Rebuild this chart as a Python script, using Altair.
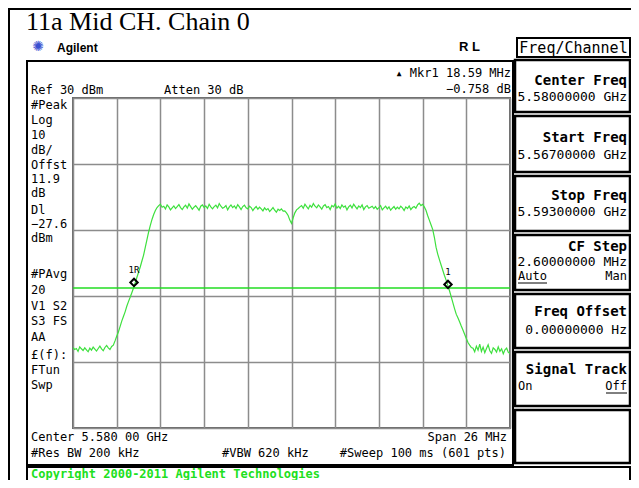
import altair as alt
import pandas as pd

# ---------------- data ----------------
TITLE = "11a Mid CH. Chain 0"
START_MHZ = -13.0          # offset from centre 5.580 GHz
STEP_MHZ = 0.1
TRACE_DBM = [
    # floor left (-13.0 .. -10.6)
    -45.6, -46.2, -45.9, -46.8, -45.4, -46.0, -46.5, -45.7, -46.3, -46.9, -45.8, -46.4, -45.5,
    -46.1, -46.7, -45.9, -45.2, -46.0, -46.6, -45.6, -45.0, -45.7, -46.2, -45.3, -44.9,
    # rising edge (-10.5 .. -8.0)
    -43.6, -42.2, -40.9, -39.3, -37.6, -36.2, -34.8, -33.1, -31.7, -30.4, -29.0, -27.6, -26.0,
    -24.4, -22.8, -21.2, -19.4, -17.6, -15.3, -12.9, -10.6, -8.6, -6.8, -5.3, -4.1, -3.2,
    # left plateau (-7.9 .. -0.5)
    -2.6, -2.2, -3.1, -2.8, -3.6, -2.4, -3.0, -3.9, -3.3, -2.7, -3.5, -2.9, -2.3, -3.2, -3.8,
    -3.0, -2.5, -3.4, -2.1, -2.9, -3.7, -3.1, -2.6, -3.3, -4.0, -2.8, -2.4, -3.2, -2.7, -3.5,
    -2.2, -3.0, -3.6, -2.9, -2.5, -3.3, -2.0, -2.8, -3.4, -3.1, -2.6, -3.9, -3.0, -2.4, -3.2,
    -2.7, -3.5, -2.3, -3.0, -3.8, -2.9, -2.5, -3.3, -3.6, -2.8, -3.2, -4.1, -3.4, -2.9, -3.7,
    -3.1, -3.6, -4.2, -3.3, -3.9, -3.5, -4.4, -3.8, -3.2, -4.0, -4.6, -3.7, -4.1, -3.6, -4.3,
    # centre dip (-0.4 .. 0.3)
    -4.2, -4.8, -5.6, -7.0, -8.0, -6.3, -4.8, -3.9,
    # right plateau (0.4 .. 7.9)
    -3.5, -3.0, -2.6, -3.4, -2.2, -2.9, -3.6, -2.5, -3.1, -2.0, -2.8, -3.3, -2.4, -3.0, -3.7,
    -2.7, -2.3, -3.2, -2.9, -3.8, -2.6, -3.0, -2.1, -3.4, -2.8, -3.5, -2.4, -3.1, -2.7, -3.9,
    -3.0, -2.5, -3.3, -2.2, -2.9, -3.6, -2.7, -3.2, -2.4, -3.8, -3.0, -2.6, -3.4, -3.1, -2.8,
    -3.5, -2.9, -3.7, -3.2, -2.6, -3.9, -3.3, -2.8, -3.6, -3.0, -4.0, -3.4, -2.9, -3.7, -3.1,
    -3.6, -2.8, -3.3, -4.1, -3.0, -3.5, -2.7, -3.8, -3.2, -2.9, -3.4, -2.4, -1.9, -2.6, -2.2, -3.0,
    # falling edge (8.0 .. 10.7)
    -4.0, -5.6, -7.0, -8.4, -9.8, -12.2, -15.2, -17.3, -19.0, -20.6, -22.2, -23.8, -25.2, -26.8,
    -28.4, -30.2, -32.0, -33.8, -35.5, -36.6, -37.8, -39.1, -40.3, -41.6, -42.9, -44.1, -44.9, -45.6,
    # floor right (10.8 .. 13.0)
    -45.8, -46.9, -45.2, -46.4, -44.6, -46.8, -45.5, -47.2, -45.9, -44.8, -46.6, -47.4, -45.7,
    -46.2, -47.0, -45.4, -46.8, -46.0, -47.5, -46.3, -45.8, -47.1, -47.4,
]
DISPLAY_LINE_DBM = -27.6
MARKER_MHZ = [-9.37, 9.31]
MARKER_DBM = [-25.9, -26.5]
MARKER_LABELS = ["1R", "1"]
X_TICKS = [-13.0, -10.4, -7.8, -5.2, -2.6, 0.0, 2.6, 5.2, 7.8, 10.4, 13.0]
Y_TICKS = [30, 20, 10, 0, -10, -20, -30, -40, -50, -60, -70]

LEFT_LABELS = ["#Peak", "Log", "10", "dB/", "Offst", "11.9", "dB", "Dl", "\u221227.6", "dBm",
               "#PAvg", "20", "V1 S2", "S3 FS", "   AA", "\u00a3(f):", "FTun", "Swp"]
SOFTKEY_TITLES = ["Center Freq", "Start Freq", "Stop Freq", "CF Step", "Freq Offset", "Signal Track"]
SOFTKEY_VALUES = ["5.58000000 GHz", "5.56700000 GHz", "5.59300000 GHz", "2.60000000 MHz", "0.00000000  Hz"]

# ---------------- layout (page pixels) ----------------
GX, GY = 73, 98          # plot-area origin on page
W, H = 437, 330
SVG_W, SVG_H = 623, 472  # page 8..631, 8..480 (page must not outgrow the window)
RX = 630                 # right edge of the softkey boxes
TX = 627                 # right edge of softkey texts

def px(X):
    return X - GX

def py(Y):
    return Y - GY

MONO = "DejaVu Sans Mono"
SANS = "Liberation Sans"
SERIF = "Liberation Serif"
TRACE_GREEN = "#3ee03e"
LINE_GREEN = "#22dd22"

dummy = pd.DataFrame({"a": [0]})
layers = []

def text(t, X, Y, size=12, font=MONO, align="left", weight="normal", color="black", baseline="middle"):
    layers.append(
        alt.Chart(dummy).mark_text(
            font=font, fontSize=size, align=align, baseline=baseline,
            fontWeight=weight, color=color,
        ).encode(x=alt.value(px(X)), y=alt.value(py(Y)), text=alt.value(t))
    )

def rect(X1, Y1, X2, Y2, sw=2, fill="white", stroke="black", opacity=1):
    layers.append(
        alt.Chart(dummy).mark_rect(fill=fill, fillOpacity=opacity, stroke=stroke, strokeWidth=sw).encode(
            x=alt.value(px(X1)), x2=alt.value(px(X2)), y=alt.value(py(Y1)), y2=alt.value(py(Y2))
        )
    )

def rule(X1, Y1, X2, Y2, sw=1, color="black"):
    layers.append(
        alt.Chart(dummy).mark_rule(color=color, strokeWidth=sw).encode(
            x=alt.value(px(X1)), x2=alt.value(px(X2)), y=alt.value(py(Y1)), y2=alt.value(py(Y2))
        )
    )

# ---------------- data layers ----------------
trace_df = pd.DataFrame({
    "f": [START_MHZ + STEP_MHZ * i for i in range(len(TRACE_DBM))],
    "dbm": TRACE_DBM,
})

xscale = alt.Scale(domain=[X_TICKS[0], X_TICKS[-1]], nice=False, zero=False)
yscale = alt.Scale(domain=[Y_TICKS[-1], Y_TICKS[0]], nice=False, zero=False)
grid_axis = dict(grid=True, labels=False, ticks=False, domain=False, title=None,
                 gridColor="#8c8c8c", gridWidth=1.5, gridOpacity=1)

trace = alt.Chart(trace_df).mark_line(color=TRACE_GREEN, strokeWidth=1.2, clip=True).encode(
    x=alt.X("f:Q", scale=xscale, axis=alt.Axis(values=X_TICKS, **grid_axis)),
    y=alt.Y("dbm:Q", scale=yscale, axis=alt.Axis(values=Y_TICKS, **grid_axis)),
)

dl = alt.Chart(dummy).mark_rule(color=LINE_GREEN, strokeWidth=1.5).encode(
    y=alt.datum(DISPLAY_LINE_DBM, type="quantitative")
)

mk_df = pd.DataFrame({"f": MARKER_MHZ, "dbm": MARKER_DBM, "lab": MARKER_LABELS})
markers = alt.Chart(mk_df).mark_point(shape="diamond", filled=False, color="black",
                                       strokeWidth=2, size=55, opacity=1).encode(
    x="f:Q", y="dbm:Q")
mk_text = alt.Chart(mk_df).mark_text(font=MONO, fontSize=9, dy=-12, color="black").encode(
    x="f:Q", y="dbm:Q", text="lab:N")

# ---------------- decorations ----------------
# outer frame of the document cell
rule(9, 8, 9, 490, sw=2)
rule(8, 9, 640, 9, sw=2)

text(TITLE, 26, 30, size=26, font=SERIF, baseline="alphabetic")
text("\u273a", 38, 47, size=14, font="DejaVu Sans", align="center", color="#3b4fd0")
text("Agilent", 57, 48, size=12, font=SANS, weight="bold")
text("R L", 459, 47, size=13, font=SANS, weight="bold")

# analyzer screen frame
rect(27, 61, 513, 465, sw=2, fill="white", opacity=0)

text("Ref 30 dBm", 31, 90)
text("Atten 30 dB", 164, 90)
text("\u25b4 Mkr1  18.59 MHz", 511, 73, align="right")
text("\u22120.758 dB", 511, 89, align="right")

left_y = [105, 120, 135, 150, 165, 179, 193, 210, 224, 238, 274, 290, 306, 321, 337, 355, 370, 385]
for lab, yy in zip(LEFT_LABELS, left_y):
    text(lab, 31, yy)

text("Center 5.580 00 GHz", 31, 437)
text("Span 26 MHz", 507, 437, align="right")
text("#Res BW 200 kHz", 31, 453)
text("#VBW 620 kHz", 222, 453)
text("#Sweep 100 ms (601 pts)", 506, 453, align="right")

# copyright bar
rect(27, 467, RX, 486, sw=2)
text("Copyright 2000-2011 Agilent Technologies", 31, 477.5, weight="bold", color="#20e020",
     baseline="alphabetic")

# softkey panel
rect(517, 38, RX, 57, sw=2)
text("Freq/Channel", (517 + RX) / 2, 47.5, size=15, align="center")
boxes = [(60, 112), (116, 172), (176, 231), (235, 290), (294, 348), (352, 406), (410, 463)]
for (y1, y2) in boxes:
    rect(515, y1, RX, y2, sw=2.5)
title_y = [81, 138, 196, 247, 312, 370]
for t, yy in zip(SOFTKEY_TITLES, title_y):
    text(t, TX, yy, size=14, weight="bold", align="right")
value_y = [97, 155, 212, 262, 330]
for t, yy in zip(SOFTKEY_VALUES, value_y):
    text(t, TX, yy, size=13, align="right")
text("Auto", 518, 276)
text("Man", TX, 276, align="right")
rule(518, 283, 547, 283)
text("On", 518, 386)
text("Off", TX, 386, align="right")
rule(TX - 21, 393, TX, 393)

chart = alt.layer(trace, dl, markers, mk_text, *layers).properties(
    width=W, height=H,
    padding={"left": GX - 8, "top": GY - 8, "right": SVG_W - (GX - 8) - W, "bottom": SVG_H - (GY - 8) - H},
    autosize=alt.AutoSizeParams(type="none"),
    background="white",
).configure_view(stroke="#6a6a6a", strokeWidth=2)

chart.save("out.html", embed_options={"renderer": "svg", "actions": False})
